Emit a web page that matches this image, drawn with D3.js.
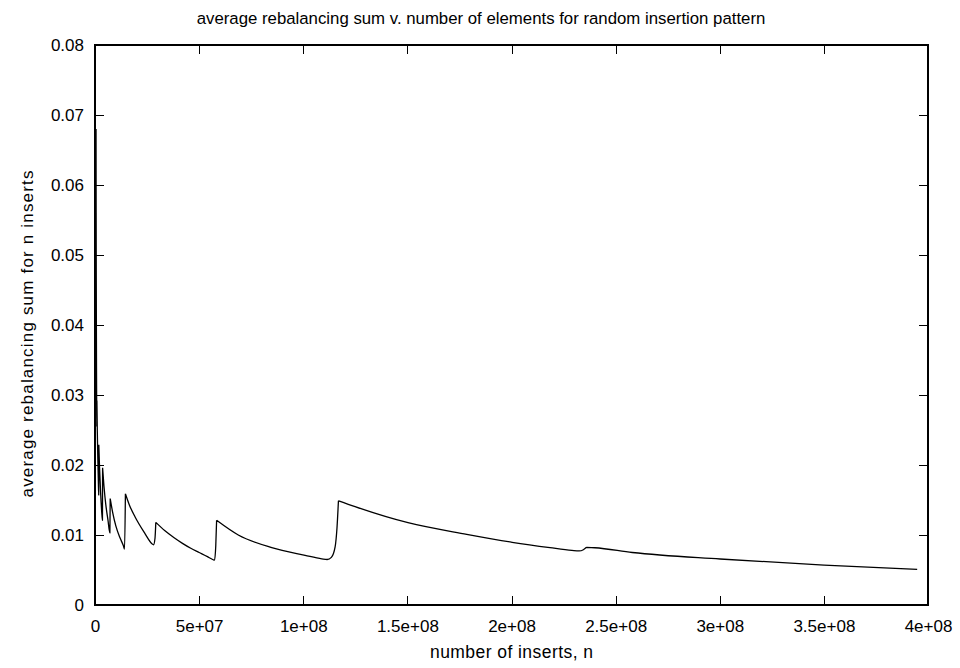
<!DOCTYPE html>
<html><head><meta charset="utf-8">
<script src="https://cdn.jsdelivr.net/npm/d3@7"></script>
<style>
body{margin:0;background:#fff}
svg{display:block}
text{font-family:"Liberation Sans",Arial,sans-serif;fill:#000}
</style>
</head><body>
<svg id="chart" width="960" height="668"></svg>
<script>
// ---- data ----
const nInserts = [
  0.5e6, 0.55e6, 0.6e6, 0.66e6, 0.72e6, 0.8e6, 0.87e6, 0.91e6,
  1.1e6, 1.35e6, 1.6e6, 1.78e6, 1.83e6,
  2.2e6, 2.7e6, 3.2e6, 3.58e6, 3.65e6,
  4.3e6, 5.2e6, 6.2e6, 7.15e6, 7.3e6,
  8.5e6, 10.0e6, 12.0e6, 13.6e6, 14.2e6, 14.6e6,
  16.5e6, 19.2e6, 24.0e6, 27.2e6, 28.1e6, 28.8e6, 29.2e6,
  33.6e6, 38.0e6, 42.0e6, 46.0e6, 50.0e6, 54.0e6, 56.5e6, 57.4e6, 58.0e6, 58.4e6,
  68.8e6, 84.9e6, 100.9e6, 108.9e6, 111.5e6, 113.5e6, 115.3e6, 116.2e6, 116.9e6,
  124.9e6, 150.3e6, 178.5e6, 200.3e6, 218.5e6, 229.0e6, 232.5e6, 234.5e6, 236.0e6,
  240.0e6, 258.0e6, 300.2e6, 350.1e6, 394.8e6
];
const avgRebalancingSum = [
  0.068, 0.056, 0.047, 0.040, 0.034, 0.029, 0.0255, 0.0292,
  0.0250, 0.021, 0.0178, 0.0157, 0.0229,
  0.0195, 0.0160, 0.0134, 0.0121, 0.0196,
  0.0170, 0.0143, 0.0122, 0.0103, 0.0152,
  0.0132, 0.0113, 0.0096, 0.0085, 0.0080, 0.0159,
  0.0143, 0.0126, 0.0102, 0.0088, 0.0086, 0.0095, 0.0118,
  0.0106, 0.0096, 0.0088, 0.0081, 0.0075, 0.0069, 0.0065, 0.0064, 0.0085, 0.0121,
  0.0100, 0.0082, 0.0071, 0.0066, 0.0065, 0.0068, 0.0083, 0.0110, 0.0149,
  0.01405, 0.01176, 0.0101, 0.00896, 0.00819, 0.0078, 0.00772, 0.0079, 0.00824,
  0.00818, 0.0075, 0.00657, 0.00571, 0.0051
];
const xTickValues = [0, 5e7, 1e8, 1.5e8, 2e8, 2.5e8, 3e8, 3.5e8, 4e8];
const xTickLabels = ["0", "5e+07", "1e+08", "1.5e+08", "2e+08", "2.5e+08", "3e+08", "3.5e+08", "4e+08"];
const yTickValues = [0, 0.01, 0.02, 0.03, 0.04, 0.05, 0.06, 0.07, 0.08];
const yTickLabels = ["0", "0.01", "0.02", "0.03", "0.04", "0.05", "0.06", "0.07", "0.08"];
const titleText = "average rebalancing sum v. number of elements for random insertion pattern";
const xLabelText = "number of inserts, n";
const yLabelText = "average rebalancing sum for n inserts";

// ---- layout ----
const W = 960, H = 668;
const L = 95, R = 928, T = 45, B = 605;
const FS = 17;

const svg = d3.select("#chart");
const x = d3.scaleLinear().domain([0, 4e8]).range([L, R]);
const y = d3.scaleLinear().domain([0, 0.08]).range([B, T]);

// axes with inward ticks, mirrored on all sides
const gx = svg.append("g").attr("transform", `translate(0,${B})`)
  .call(d3.axisBottom(x).tickValues(xTickValues)
    .tickFormat((d, i) => xTickLabels[i]).tickSizeInner(-9).tickSizeOuter(0).tickPadding(15));
const gxt = svg.append("g").attr("transform", `translate(0,${T})`)
  .call(d3.axisTop(x).tickValues(xTickValues).tickFormat("").tickSizeInner(-9).tickSizeOuter(0));
const gy = svg.append("g").attr("transform", `translate(${L},0)`)
  .call(d3.axisLeft(y).tickValues(yTickValues)
    .tickFormat((d, i) => yTickLabels[i]).tickSizeInner(-9).tickSizeOuter(0).tickPadding(11));
const gyr = svg.append("g").attr("transform", `translate(${R},0)`)
  .call(d3.axisRight(y).tickValues(yTickValues).tickFormat("").tickSizeInner(-9).tickSizeOuter(0));

[gx, gxt, gy, gyr].forEach(g => {
  g.select(".domain").remove();
  g.selectAll("line").attr("stroke", "#000").attr("stroke-width", 1).attr("shape-rendering", "crispEdges");
  g.selectAll("text").attr("font-size", FS).attr("font-family", '"Liberation Sans",Arial,sans-serif').attr("fill", "#000");
});

svg.append("rect").attr("x", L).attr("y", T).attr("width", R - L).attr("height", B - T)
  .attr("fill", "none").attr("stroke", "#000").attr("stroke-width", 1.2).attr("shape-rendering", "crispEdges");

// ---- the curve: split into sawtooth segments at each local peak ----
const pts = nInserts.map((n, i) => [n, avgRebalancingSum[i]]);
const segs = [];
let cur = [pts[0]];
for (let i = 1; i < pts.length; i++) {
  cur.push(pts[i]);
  const isPeak = i < pts.length - 1 && pts[i][1] > pts[i - 1][1] && pts[i][1] > pts[i + 1][1];
  if (isPeak) { segs.push(cur); cur = [pts[i]]; }
}
segs.push(cur);
const line = d3.line().x(d => x(d[0])).y(d => y(d[1])).curve(d3.curveMonotoneX);
svg.append("path").attr("d", segs.map(s => line(s)).join(""))
  .attr("fill", "none").attr("stroke", "#000").attr("stroke-width", 1.3).attr("stroke-linejoin", "round");

// ---- texts ----
svg.append("text").attr("x", W / 2 + 1).attr("y", 23.5).attr("text-anchor", "middle")
  .attr("font-size", 16.8).text(titleText);
svg.append("text").attr("x", (L + R) / 2).attr("y", 658).attr("text-anchor", "middle")
  .attr("font-size", 17.5).attr("textLength", 163).attr("lengthAdjust", "spacing").text(xLabelText);
svg.append("text").attr("transform", `translate(33,334) rotate(-90)`)
  .attr("text-anchor", "middle").attr("font-size", 17)
  .attr("textLength", 327).attr("lengthAdjust", "spacing").text(yLabelText);
</script>
</body></html>
